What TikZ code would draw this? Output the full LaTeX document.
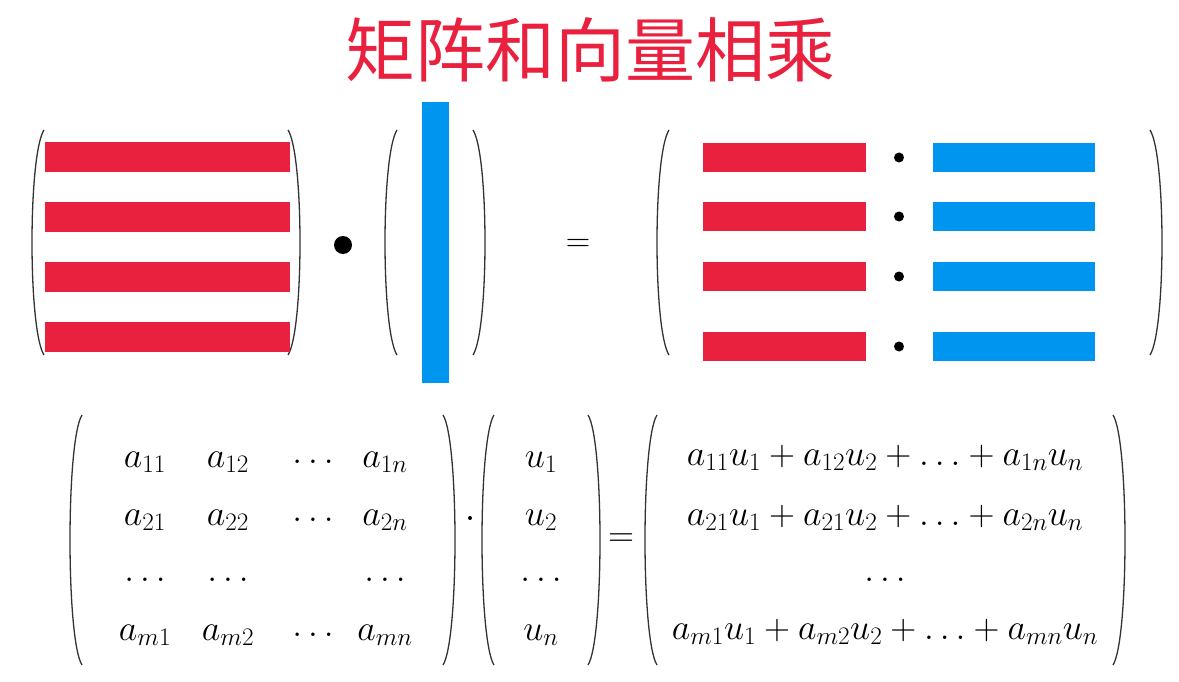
\RequirePackage{fix-cm}
\documentclass[tikz,border=0pt]{standalone}
\usepackage{fontspec}
\newfontfamily\cjk{Noto Sans CJK SC}
\definecolor{tred}{RGB}{233,32,62}
\definecolor{tblue}{RGB}{0,150,240}
\begin{document}
\begin{tikzpicture}[x=1pt,y=-1pt,
  par/.style={line width=1.3pt,black!80},
  rbar/.style={fill=tred,draw=none},
  bbar/.style={fill=tblue,draw=none},
  m/.style={font=\fontsize{36}{40}\selectfont,inner sep=0pt}]
\useasboundingbox (0,0) rectangle (1179,682);
\newcommand{\lp}[3]{\draw[par] (#1+12,#2) .. controls (#1-4,#2+25) and (#1-4,#3-25) .. (#1+12,#3);}
\newcommand{\rp}[3]{\draw[par] (#1-12,#2) .. controls (#1+4,#2+25) and (#1+4,#3-25) .. (#1-12,#3);}
\node[text=tred,font=\cjk\fontsize{70}{76}\selectfont] (title) at (590,50) {矩阵和向量相乘};
% top left
\lp{32}{130}{355}\rp{300}{130}{355}
\foreach \y in {142,202,262,322} \fill[rbar] (45,\y) rectangle (290,\y+30);
\fill (343,245) circle (9);
\lp{385}{130}{355}\rp{485}{130}{355}
\fill[bbar] (422,102) rectangle (449,383);
\node[font=\fontsize{34}{38}\selectfont] (eq1) at (578,245) {=};
\lp{657}{130}{355}\rp{1162}{130}{355}
\foreach \y in {143,202,262,332} {
  \fill[rbar] (703,\y) rectangle (866,\y+29);
  \fill (899,\y+14.5) circle (5);
  \fill[bbar] (933,\y) rectangle (1095,\y+29);}
% bottom
\lp{70}{415}{665}\rp{455}{415}{665}
\node[m] at (145,462) {$a_{11}$};\node[m] at (228,462) {$a_{12}$};\node[m] at (313,462) {$\dots$};\node[m] at (385,462) {$a_{1n}$};
\node[m] at (145,520) {$a_{21}$};\node[m] at (228,520) {$a_{22}$};\node[m] at (313,520) {$\dots$};\node[m] at (385,520) {$a_{2n}$};
\node[m] at (145,580) {$\dots$};\node[m] at (228,580) {$\dots$};\node[m] at (385,580) {$\dots$};
\node[m] at (145,635) {$a_{m1}$};\node[m] at (228,635) {$a_{m2}$};\node[m] at (313,635) {$\dots$};\node[m] at (385,635) {$a_{mn}$};
\fill (470,518) circle (2);
\lp{482}{415}{665}\rp{600}{415}{665}
\node[m] at (541,462) {$u_1$};\node[m] at (541,520) {$u_2$};\node[m] at (541,580) {$\dots$};\node[m] at (541,635) {$u_n$};
\node[m] (eq2) at (621,540) {$=$};
\lp{645}{415}{665}\rp{1125}{415}{665}
\node[m] at (885,458) {$a_{11}u_1+a_{12}u_2+\dots+a_{1n}u_n$};
\node[m] at (885,518) {$a_{21}u_1+a_{21}u_2+\dots+a_{2n}u_n$};
\node[m] at (885,580) {$\dots$};
\node[m] at (885,632) {$a_{m1}u_1+a_{m2}u_2+\dots+a_{mn}u_n$};
\end{tikzpicture}
\end{document}
